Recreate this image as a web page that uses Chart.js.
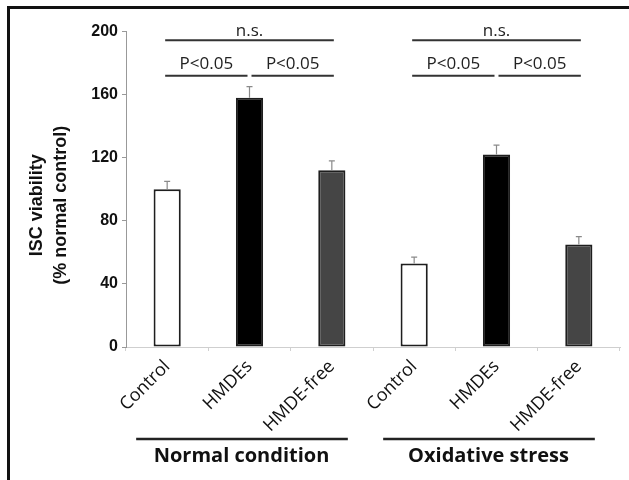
<!DOCTYPE html>
<html>
<head>
<meta charset="utf-8">
<script src="https://cdn.jsdelivr.net/npm/chart.js@4.4.1/dist/chart.umd.min.js"></script>
<style>
  body { margin: 0; background: #fff; }
  canvas { display: block; }
</style>
</head>
<body>
<canvas id="chart" width="629" height="480"></canvas>
<script>
// data
const categories = ['Control', 'HMDEs', 'HMDE-free', 'Control', 'HMDEs', 'HMDE-free'];
const viability = [100, 158, 112, 53, 122, 65];
const errors = [5, 7, 6, 4, 6, 5];
const barColors = ['#ffffff', '#000000', '#454545', '#ffffff', '#000000', '#454545'];

const groupNames = ['Normal condition', 'Oxidative stress'];
const groupFirst = [0, 3];
const groupLast = [2, 5];

// significance brackets
const bracketFrom = [0, 0, 1, 3, 3, 4];
const bracketTo = [2, 1, 2, 5, 4, 5];
const bracketLevel = [194.5, 172, 172, 194.5, 172, 172];
const bracketText = ['n.s.', 'P<0.05', 'P<0.05', 'n.s.', 'P<0.05', 'P<0.05'];

const yTicks = [0, 40, 80, 120, 160, 200];
const yTitle = ['ISC viability', '(% normal control)'];

const errorBars = {
  id: 'errorBars',
  afterDatasetsDraw(chart) {
    const ctx = chart.ctx;
    const y = chart.scales.y;
    const bars = chart.getDatasetMeta(0).data;
    ctx.save();
    ctx.strokeStyle = '#8a8a8a';
    ctx.lineWidth = 1.2;
    bars.forEach((bar, i) => {
      const top = y.getPixelForValue(viability[i] + errors[i]);
      const base = y.getPixelForValue(viability[i]);
      ctx.beginPath();
      ctx.moveTo(bar.x, base);
      ctx.lineTo(bar.x, top);
      ctx.moveTo(bar.x - 3, top);
      ctx.lineTo(bar.x + 3, top);
      ctx.stroke();
    });
    ctx.restore();
  }
};

const brackets = {
  id: 'brackets',
  afterDraw(chart) {
    const ctx = chart.ctx;
    const x = chart.scales.x;
    const y = chart.scales.y;
    ctx.save();
    ctx.strokeStyle = '#333';
    ctx.lineWidth = 2;
    ctx.fillStyle = '#222';
    ctx.font = '17px "Open Sans"';
    ctx.textAlign = 'center';
    ctx.textBaseline = 'alphabetic';
    bracketFrom.forEach((from, i) => {
      const to = bracketTo[i];
      const x1 = x.getPixelForValue(from) + (from % 3 === 1 ? 2 : -2);
      const x2 = x.getPixelForValue(to) + (to % 3 === 1 ? -2 : 2);
      const ly = y.getPixelForValue(bracketLevel[i]);
      ctx.beginPath();
      ctx.moveTo(x1, ly);
      ctx.lineTo(x2, ly);
      ctx.stroke();
      const gap = bracketText[i] === 'n.s.' ? 4 : 7;
      ctx.fillText(bracketText[i], (x1 + x2) / 2, ly - gap);
    });

    // group labels under the axis
    const area = chart.chartArea;
    ctx.strokeStyle = '#222';
    ctx.lineWidth = 2.5;
    ctx.font = 'bold 20px "Open Sans"';
    ctx.fillStyle = '#111';
    groupNames.forEach((name, g) => {
      const a = x.getPixelForValue(groupFirst[g]) - 31;
      const b = x.getPixelForValue(groupLast[g]) + 16;
      const ly = area.bottom + 92;
      ctx.beginPath();
      ctx.moveTo(a, ly);
      ctx.lineTo(b, ly);
      ctx.stroke();
      ctx.fillText(name, x.getPixelForValue(groupFirst[g] + 1) - 8, area.bottom + 115);
    });

    // y axis title, two lines, a bit below the axis middle
    ctx.translate(area.left - 89, (area.top + area.bottom) / 2 + 16);
    ctx.rotate(-Math.PI / 2);
    ctx.font = 'bold 18px "Liberation Sans", Arial';
    ctx.textBaseline = 'middle';
    yTitle.forEach((line, i) => ctx.fillText(line, 0, i * 24));
    ctx.setTransform(1, 0, 0, 1, 0, 0);

    // picture frame (only top and left edges are visible)
    ctx.fillStyle = '#111';
    ctx.fillRect(7, 6, 3, chart.height - 6);
    ctx.fillRect(7, 6, chart.width - 7, 3);
    ctx.restore();
  }
};

new Chart(document.getElementById('chart').getContext('2d'), {
  type: 'bar',
  data: {
    labels: categories,
    datasets: [{
      data: viability,
      backgroundColor: barColors,
      borderColor: '#1e1e1e',
      borderWidth: 2,
      borderSkipped: false,
      barPercentage: 0.33,
      categoryPercentage: 1
    }]
  },
  options: {
    responsive: false,
    animation: false,
    layout: { padding: { left: 25, top: 31.5, right: 9, bottom: 0 } },
    plugins: {
      legend: { display: false },
      tooltip: { enabled: false }
    },
    scales: {
      x: {
        offset: true,
        afterFit(scale) { scale.height = 133; },
        grid: {
          offset: true,
          drawOnChartArea: false,
          tickLength: 4,
          color: '#d0d0d0'
        },
        border: { color: '#cfcfcf', width: 1 },
        ticks: {
          minRotation: 45,
          maxRotation: 45,
          autoSkip: false,
          padding: 5,
          color: '#111',
          font: { family: '"Open Sans"', size: 18 }
        }
      },
      y: {
        min: 0,
        max: 200,
        afterFit(scale) { scale.width = 101; },
        afterBuildTicks(scale) { scale.ticks = yTicks.map(v => ({ value: v })); },
        grid: {
          drawOnChartArea: false,
          tickLength: 4,
          color: '#999'
        },
        border: { color: '#999', width: 1 },
        ticks: {
          padding: 4,
          color: '#111',
          font: { family: '"Liberation Sans", Arial', size: 16, weight: 'bold' }
        }
      }
    }
  },
  plugins: [errorBars, brackets]
});
</script>
</body>
</html>
